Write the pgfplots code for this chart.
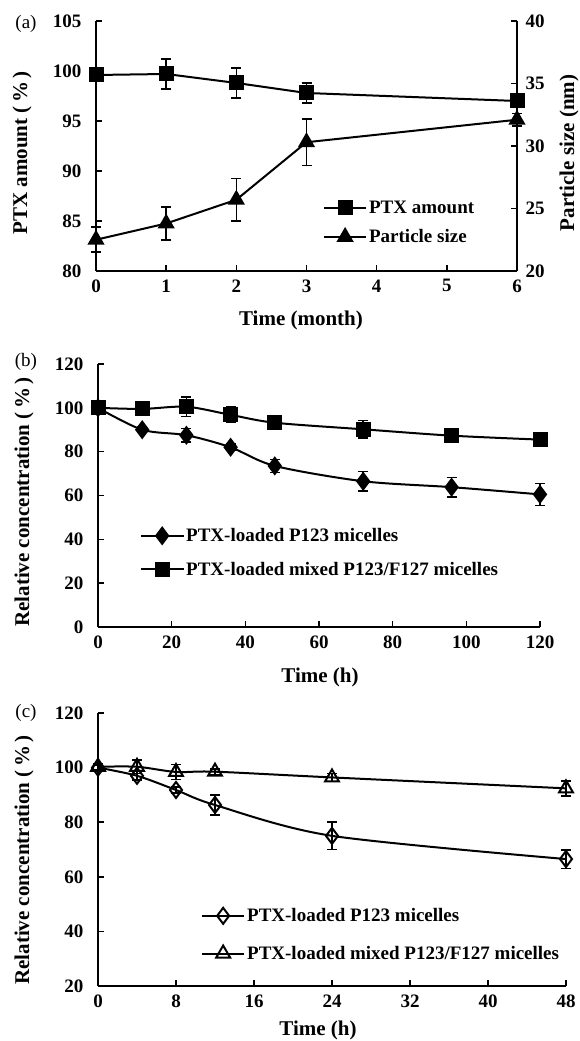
\documentclass[border=0pt]{standalone}
\usepackage{fontspec}
\setmainfont{Liberation Serif}
\usepackage{pgfplots}
\pgfplotsset{compat=1.18}

\newcommand\tck{\fontsize{19}{21}\selectfont\bfseries}
\newcommand\lbl{\fontsize{21}{23}\selectfont\bfseries}
\newcommand\leg{\fontsize{19}{21}\selectfont\bfseries}

\pgfplotsset{
  panel/.style={
    scale only axis, anchor=south west, clip=false,
    axis line style={line width=2pt,-},
    tick align=inside, major tick length=6pt,
    tick style={line width=1.6pt,black},
    ticklabel style={font=\tck},
    /pgf/number format/assume math mode=true,
    xticklabel style={yshift=-5pt},
    yticklabel style={xshift=-11pt},
    every axis plot/.append style={line width=2pt, black},
    legend cell align=left,
    legend style={draw=none, fill=none, font=\leg, inner sep=0pt,
      /tikz/every even column/.append style={column sep=3pt}},
    legend image code/.code={\draw[line width=2pt,mark repeat=2,mark phase=2]
      plot coordinates {(0pt,0pt) (21pt,0pt) (42pt,0pt)};},
  },
  ebar/.style={error bars/.cd, y dir=both, y explicit,
    error bar style={line width=1.6pt},
    error mark options={rotate=90, mark size=5pt, line width=1.6pt}},
}

\begin{document}
\begin{tikzpicture}[x=1pt,y=1pt]
\path[use as bounding box] (0,0) rectangle (579,1041);

% (a) PTX amount and particle size
\begin{axis}[panel, at={(96pt,770pt)}, width=421pt, height=250pt,
  axis x line*=bottom, axis y line*=left,
  xmin=0, xmax=6, xtick={0,...,6},
  ymin=80, ymax=105, ytick={80,85,...,105}]
  \addplot[mark=square*, mark size=6.5pt, ebar] coordinates {
    (0,99.6) +- (0,0.5) (1,99.7) +- (0,1.5) (2,98.8) +- (0,1.5)
    (3,97.8) +- (0,1.0) (6,97.0) +- (0,0.6)};
\end{axis}
\begin{axis}[panel, at={(96pt,770pt)}, width=421pt, height=250pt,
  axis y line*=right, axis x line=none,
  yticklabel style={xshift=16pt},
  xmin=0, xmax=6, ymin=20, ymax=40, ytick={20,25,...,40},
  legend style={at={(0.539,0.29)}, anchor=north west, row sep=11pt}]
  \addlegendimage{mark=square*, mark size=6.5pt, line width=2pt}
  \addlegendentry{PTX amount}
  \addplot[mark=triangle*, mark size=8pt, ebar] coordinates {
    (0,22.5) +- (0,1.0) (1,23.8) +- (0,1.3) (2,25.7) +- (0,1.7)
    (3,30.3) +- (0,1.85) (6,32.1) +- (0,0.5)};
  \addlegendentry{Particle size}
\end{axis}
\node[font=\fontsize{19}{21}\selectfont] at (26,1017) {(a)};
\node[font=\lbl] at (301,721) {Time (month)};
\node[font=\lbl, rotate=90] at (22,888) {PTX amount (\,\%\,)};
\node[font=\lbl, rotate=90] at (569,888) {Particle size (nm)};

% (b)
\begin{axis}[panel, at={(98pt,414pt)}, width=442pt, height=263pt,
  axis x line*=bottom, axis y line*=left,
  xmin=0, xmax=120, xtick={0,20,...,120},
  ymin=0, ymax=120, ytick={0,20,...,120},
  legend style={at={(0.095,0.383)}, anchor=north west, row sep=15pt}]
  \addplot[smooth, tension=0.5, mark=diamond*, mark size=8pt, ebar] coordinates {
    (0,100) +- (0,0.8) (12,90) +- (0,1.2) (24,87.5) +- (0,3)
    (36,82) +- (0,1.5) (48,73.5) +- (0,3) (72,66.5) +- (0,4.5)
    (96,63.8) +- (0,4.5) (120,60.5) +- (0,5)};
  \addlegendentry{PTX-loaded P123 micelles}
  \addplot[smooth, tension=0.5, mark=square*, mark size=6.5pt, ebar] coordinates {
    (0,100) +- (0,1) (12,99.5) +- (0,1) (24,100.5) +- (0,4.5)
    (36,96.8) +- (0,3.5) (48,93.2) +- (0,2) (72,90.2) +- (0,4)
    (96,87.3) +- (0,2) (120,85.5) +- (0,1.5)};
  \addlegendentry{PTX-loaded mixed P123/F127 micelles}
\end{axis}
\node[font=\fontsize{19}{21}\selectfont] at (26,679) {(b)};
\node[font=\lbl] at (320,364) {Time (h)};
\node[font=\lbl, rotate=90] at (24,539) {Relative concentration (\,\%\,)};

% (c)
\begin{axis}[panel, at={(98pt,55pt)}, width=468pt, height=273pt,
  axis x line*=bottom, axis y line*=left,
  xmin=0, xmax=48, xtick={0,8,...,48},
  ymin=20, ymax=120, ytick={20,40,...,120},
  legend style={at={(0.22,0.292)}, anchor=north west, row sep=19pt}]
  \addplot[smooth, tension=0.5, mark=diamond, mark size=8pt,
    mark options={fill=white}, ebar] coordinates {
    (0,100) +- (0,1) (4,97) +- (0,1.5) (8,91.8) +- (0,1)
    (12,86.3) +- (0,3.7) (24,75) +- (0,5) (48,66.5) +- (0,3.4)};
  \addlegendentry{PTX-loaded P123 micelles}
  \addplot[smooth, tension=0.5, mark=triangle, mark size=8pt,
    mark options={fill=white}, ebar] coordinates {
    (0,100.3) +- (0,1) (4,100.3) +- (0,2.5) (8,98.4) +- (0,2.7)
    (12,98.5) +- (0,1) (24,96.4) +- (0,1.5) (48,92.4) +- (0,2.7)};
  \addlegendentry{PTX-loaded mixed P123/F127 micelles}
\end{axis}
\node[font=\fontsize{19}{21}\selectfont] at (26,328) {(c)};
\node[font=\lbl] at (318,11) {Time (h)};
\node[font=\lbl, rotate=90] at (24,181) {Relative concentration (\,\%\,)};
\end{tikzpicture}
\end{document}
